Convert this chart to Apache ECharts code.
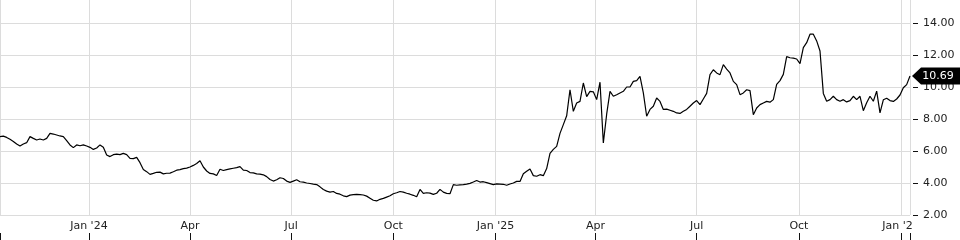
<!DOCTYPE html>
<html>
<head>
<meta charset="utf-8">
<script src="https://cdn.jsdelivr.net/npm/echarts@6/dist/echarts.min.js"></script>
<style>
html,body{margin:0;padding:0;background:#fff;}
#chart{width:960px;height:240px;}
</style>
</head>
<body>
<div id="chart"></div>
<script>
// Series start date and spacing (every 3 calendar days)
const startYear = 2023, startMonth = 9, startDay = 13, stepDays = 3;
const axisStart = [2023, 9, 13];
const axisEnd = [2026, 0, 9];

// Price readings
const prices = [
  6.90, 6.93, 6.85, 6.73, 6.60, 6.44, 6.31, 6.44, 6.52, 6.90,
  6.79, 6.69, 6.75, 6.69, 6.79, 7.10, 7.06, 7.00, 6.94, 6.90,
  6.65, 6.38, 6.21, 6.38, 6.33, 6.38, 6.31, 6.23, 6.10, 6.19,
  6.38, 6.23, 5.75, 5.65, 5.77, 5.81, 5.77, 5.85, 5.77, 5.54,
  5.52, 5.60, 5.27, 4.85, 4.71, 4.54, 4.60, 4.67, 4.68, 4.57,
  4.61, 4.62, 4.70, 4.80, 4.84, 4.90, 4.93, 5.00, 5.10, 5.22,
  5.39, 5.00, 4.75, 4.60, 4.57, 4.47, 4.86, 4.78, 4.84, 4.88,
  4.92, 4.96, 5.02, 4.80, 4.78, 4.65, 4.63, 4.57, 4.55, 4.51,
  4.40, 4.22, 4.12, 4.20, 4.33, 4.28, 4.12, 4.04, 4.12, 4.20,
  4.08, 4.05, 4.00, 3.97, 3.93, 3.90, 3.76, 3.59, 3.49, 3.43,
  3.47, 3.35, 3.30, 3.20, 3.15, 3.24, 3.27, 3.29, 3.27, 3.25,
  3.18, 3.05, 2.92, 2.88, 2.98, 3.04, 3.12, 3.20, 3.33, 3.39,
  3.47, 3.43, 3.36, 3.30, 3.23, 3.14, 3.60, 3.35, 3.39, 3.37,
  3.29, 3.36, 3.60, 3.43, 3.35, 3.33, 3.90, 3.86, 3.88, 3.90,
  3.93, 3.98, 4.06, 4.16, 4.06, 4.08, 4.02, 3.96, 3.90, 3.94,
  3.93, 3.92, 3.86, 3.94, 4.00, 4.10, 4.10, 4.58, 4.73, 4.88,
  4.46, 4.42, 4.52, 4.46, 4.90, 5.85, 6.10, 6.29, 7.10, 7.65,
  8.20, 9.83, 8.48, 9.00, 9.10, 10.25, 9.40, 9.73, 9.70, 9.21,
  10.30, 6.50, 8.30, 9.73, 9.42, 9.52, 9.63, 9.73, 10.00, 10.00,
  10.35, 10.40, 10.67, 9.63, 8.17, 8.60, 8.80, 9.31, 9.10, 8.60,
  8.62, 8.55, 8.48, 8.38, 8.35, 8.48, 8.60, 8.80, 9.00, 9.15,
  8.90, 9.25, 9.60, 10.77, 11.08, 10.88, 10.77, 11.40, 11.12, 10.88,
  10.35, 10.15, 9.52, 9.63, 9.83, 9.77, 8.27, 8.69, 8.90, 9.00,
  9.10, 9.05, 9.21, 10.16, 10.40, 10.79, 11.90, 11.83, 11.80, 11.75,
  11.46, 12.46, 12.77, 13.30, 13.30, 12.88, 12.25, 9.60, 9.11, 9.21,
  9.42, 9.21, 9.11, 9.21, 9.07, 9.15, 9.42, 9.21, 9.42, 8.52,
  9.01, 9.42, 9.11, 9.74, 8.38, 9.20, 9.30, 9.15, 9.10, 9.25,
  9.50, 9.95, 10.15, 10.69
];

// Axis tick settings / labels
const yMin = 2, yMax = 16, yStep = 2;
const monthLabels = ['Jan','Feb','Mar','Apr','May','Jun','Jul','Aug','Sep','Oct','Nov','Dec'];

const dates = prices.map((_, i) => new Date(startYear, startMonth, startDay + stepDays * i).getTime());
const seriesData = dates.map((d, i) => [d, prices[i]]);
const last = seriesData[seriesData.length - 1];

const DAY = 86400000;
const xMin = new Date(axisStart[0], axisStart[1], axisStart[2]).getTime();
const xMax = new Date(axisEnd[0], axisEnd[1], axisEnd[2]).getTime();

function fmtX(v) {
  const d = new Date(v);
  if (d.getDate() !== 1) return '';
  const m = d.getMonth();
  if (m === 0) return "Jan '" + String(d.getFullYear()).slice(2);
  return monthLabels[m];
}

const FONT = 'DejaVu Sans';
const chart = echarts.init(document.getElementById('chart'), null, {renderer: 'canvas'});
chart.setOption({
  animation: false,
  backgroundColor: '#fff',
  textStyle: {fontFamily: FONT},
  grid: {left: 0, right: 50, top: -9, bottom: 25, containLabel: false, outerBoundsMode: 'none'},
  xAxis: [{
    type: 'time', min: xMin, max: xMax,
    minInterval: 85 * DAY, maxInterval: 100 * DAY,
    axisLine: {show: false},
    axisTick: {show: false},
    axisLabel: {
      formatter: fmtX, color: '#222', fontSize: 11, fontFamily: FONT, margin: 6,
      hideOverlap: false, showMinLabel: false, showMaxLabel: false
    },
    splitLine: {show: true, lineStyle: {color: '#dcdcdc', width: 1}}
  }, {
    type: 'time', min: xMin, max: xMax, position: 'bottom', offset: 18,
    minInterval: 85 * DAY, maxInterval: 100 * DAY,
    axisLine: {show: false},
    axisTick: {show: true, length: 7, lineStyle: {color: '#111', width: 1}},
    axisLabel: {show: false},
    splitLine: {show: false}
  }],
  yAxis: {
    type: 'value', position: 'right', min: yMin, max: yMax, interval: yStep, offset: 3,
    axisLine: {show: false},
    axisTick: {show: true, length: 5, lineStyle: {color: '#111', width: 1}},
    axisLabel: {formatter: v => v.toFixed(2), color: '#222', fontSize: 11, fontFamily: FONT, margin: 10},
    splitLine: {show: true, lineStyle: {color: '#dcdcdc', width: 1}}
  },
  series: [{
    type: 'line', xAxisIndex: 0, data: seriesData, showSymbol: false, symbol: 'none',
    lineStyle: {color: '#000', width: 1.2}, clip: false,
    markPoint: {
      silent: true,
      data: [{coord: last, value: last[1]}],
      symbol: 'path://M0,8.5 L9,0 L48,0 L48,17 L9,17 Z',
      symbolSize: [48, 17], symbolOffset: [26, 0],
      itemStyle: {color: '#000'},
      label: {show: true, position: 'inside', formatter: p => p.value.toFixed(2), color: '#fff', fontSize: 11, fontFamily: FONT, offset: [2, 0]}
    }
  }],
  graphic: [{
    type: 'rect', z: 100, shape: {x: 913, y: 220, width: 47, height: 13},
    style: {fill: '#fff'}
  }]
});
</script>
</body>
</html>
